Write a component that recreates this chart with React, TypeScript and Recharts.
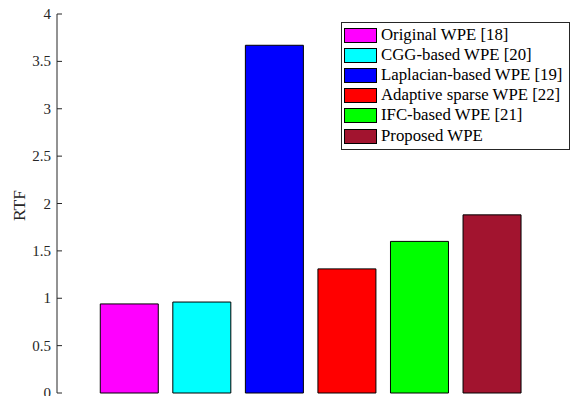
import { Bar, BarChart, Cell, Legend, XAxis, YAxis } from 'recharts';

const methods = [
  'Original WPE [18]',
  'CGG-based WPE [20]',
  'Laplacian-based WPE [19]',
  'Adaptive sparse WPE [22]',
  'IFC-based WPE [21]',
  'Proposed WPE',
];
const barPositions = [1, 2, 3, 4, 5, 6];
const rtfValues = [0.94, 0.96, 3.67, 1.31, 1.6, 1.88];
const barColors = ['#ff00ff', '#00ffff', '#0000ff', '#ff0000', '#00ff00', '#a2142f'];
const yTicks = [0, 0.5, 1, 1.5, 2, 2.5, 3, 3.5, 4];

const data = methods.map((name, i) => ({ name, pos: barPositions[i], rtf: rtfValues[i] }));

const FONT = "'Liberation Serif', 'Times New Roman', serif";
const AXIS = '#262626';

// y tick text drawn by hand so the serif face and size stick
function YTick({ x, y, payload }: any) {
  return (
    <text
      x={x}
      y={y}
      textAnchor="end"
      dominantBaseline="central"
      fill={AXIS}
      style={{ fontFamily: FONT, fontSize: '15px' }}
    >
      {payload.value}
    </text>
  );
}

function MethodLegend() {
  return (
    <div
      style={{
        border: '1px solid #262626',
        background: '#fff',
        width: 229,
        height: 128,
        boxSizing: 'border-box',
        paddingTop: 2,
        fontFamily: FONT,
        fontSize: 16.8,
        color: '#000',
      }}
    >
      {methods.map((m, i) => (
        <div key={m} style={{ display: 'flex', alignItems: 'center', height: 20.2 }}>
          <span
            style={{
              display: 'inline-block',
              width: 33,
              height: 15,
              marginLeft: 2,
              background: barColors[i],
              border: '1px solid #000',
              boxSizing: 'border-box',
            }}
          />
          <span style={{ marginLeft: 4, whiteSpace: 'nowrap', lineHeight: 1 }}>{m}</span>
        </div>
      ))}
    </div>
  );
}

export default function App() {
  return (
    <div
      style={{
        position: 'absolute',
        left: 0,
        top: 0,
        width: 583,
        height: 396,
        background: '#fff',
        overflow: 'hidden',
        fontFamily: FONT,
      }}
    >
      <BarChart width={583} height={396} data={data} margin={{ top: 14, right: 0, bottom: 3, left: 0 }}>
        <XAxis
          xAxisId="bottom"
          dataKey="pos"
          type="number"
          domain={[0, 7.25]}
          height={0}
          tick={false}
          tickLine={false}
          axisLine={{ stroke: AXIS }}
        />
        <XAxis
          xAxisId="top"
          orientation="top"
          dataKey="pos"
          type="number"
          domain={[0, 7.25]}
          height={0}
          tick={false}
          tickLine={false}
          axisLine={{ stroke: AXIS }}
        />
        <YAxis
          yAxisId="left"
          width={57}
          domain={[0, 4]}
          ticks={yTicks}
          interval={0}
          tickSize={-5}
          tickMargin={11}
          axisLine={{ stroke: AXIS }}
          tickLine={{ stroke: AXIS }}
          tick={<YTick />}
          label={({ viewBox }: any) => {
            const cx = viewBox.x + 18.5;
            const cy = viewBox.y + viewBox.height / 2 + 2;
            return (
              <text
                x={cx}
                y={cy}
                transform={`rotate(-90 ${cx} ${cy})`}
                textAnchor="middle"
                dominantBaseline="central"
                fill={AXIS}
                style={{ fontFamily: FONT, fontSize: '17.5px' }}
              >
                RTF
              </text>
            );
          }}
        />
        <YAxis
          yAxisId="right"
          orientation="right"
          width={0}
          domain={[0, 4]}
          ticks={yTicks}
          interval={0}
          tickSize={-5}
          tick={false}
          axisLine={{ stroke: AXIS }}
          tickLine={{ stroke: AXIS }}
        />
        <Legend
          layout="vertical"
          align="center"
          verticalAlign="middle"
          content={() => <MethodLegend />}
          wrapperStyle={{ position: 'absolute', left: 341, top: 22, width: 229, height: 128 }}
        />
        <Bar dataKey="rtf" xAxisId="bottom" yAxisId="left" barSize={58} stroke="#000" strokeWidth={1} isAnimationActive={false}>
          {data.map((d, i) => (
            <Cell key={d.name} fill={barColors[i]} />
          ))}
        </Bar>
      </BarChart>
    </div>
  );
}
